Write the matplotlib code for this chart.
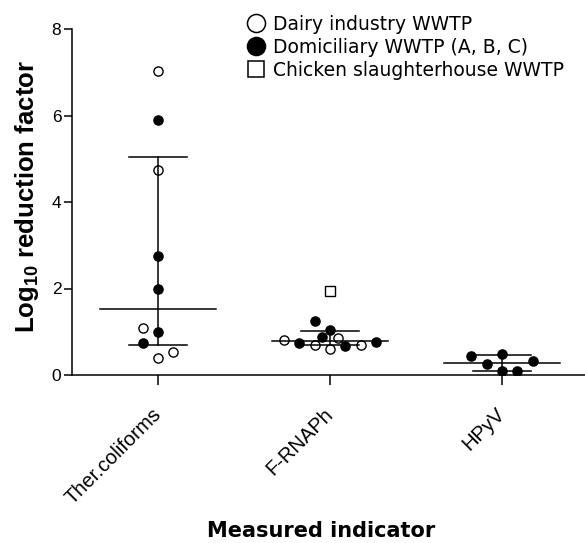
import numpy as np
import matplotlib
matplotlib.use('Agg')
import matplotlib.pyplot as plt
from matplotlib.lines import Line2D

############### data  ################################
categories = ['Ther.coliforms', 'F-RNAPh', 'HPyV']
series_names = ['Dairy industry WWTP', 'Domiciliary WWTP (A, B, C)', 'Chicken slaughterhouse WWTP']

# Log10 reduction factor
ther_dairy = [7.03, 4.74, 1.08, 0.54, 0.39]
ther_domic = [5.90, 2.74, 1.99, 0.99, 0.75]
frna_dairy = [0.85, 0.82, 0.69, 0.69, 0.60]
frna_domic = [1.26, 1.05, 0.89, 0.74, 0.66, 0.77]
frna_chick = [1.95]
hpyv_domic = [0.45, 0.48, 0.32, 0.25, 0.10, 0.10]

yticks = [0, 2, 4, 6, 8]

############### layout (scatter columns, in marker slots) ##########
ther_dairy_slot = [0, 0, -1, 1, 0]
ther_domic_slot = [0, 0, 0, 0, -1]
frna_dairy_slot = [0.5, -3, -1, 2, 0]
frna_domic_slot = [-1, 0, -0.5, -2, 1, 3]
frna_chick_slot = [0]
hpyv_domic_slot = [-2, 0, 2, -1, 0, 1]
step = 0.089

############### style ################################
plt.rcParams['mathtext.fontset'] = 'custom'
plt.rcParams['mathtext.rm'] = 'Liberation Sans:bold'
plt.rcParams['mathtext.default'] = 'rm'

open_kw = dict(marker='o', ms=6.6, mew=1.0, mfc='none', mec='black', ls='none', zorder=3)
fill_kw = dict(marker='o', ms=6.6, mew=1.0, mfc='black', mec='black', ls='none', zorder=4)
sq_kw = dict(marker='s', ms=7.0, mew=1.0, mfc='none', mec='black', ls='none', zorder=3)

fig = plt.figure(figsize=(5.85, 5.43), dpi=100)
ax = fig.add_axes([72 / 585, 168 / 543, 516 / 585, 346 / 543])

groups = [
    (0, [(ther_dairy, ther_dairy_slot, open_kw), (ther_domic, ther_domic_slot, fill_kw)]),
    (1, [(frna_dairy, frna_dairy_slot, open_kw), (frna_domic, frna_domic_slot, fill_kw),
         (frna_chick, frna_chick_slot, sq_kw)]),
    (2, [(hpyv_domic, hpyv_domic_slot, fill_kw)]),
]

for xc, parts in groups:
    allv = []
    for vals, slots, kw in parts:
        xs = xc + np.array(slots) * step
        ax.plot(xs, vals, **kw)
        allv += vals
    allv = np.array(allv)
    # median with interquartile range
    med = np.median(allv)
    q1, q3 = np.percentile(allv, [25, 75], method='weibull')
    ax.plot([xc - 0.335, xc + 0.335], [med, med], color='black', lw=1.1, zorder=2)
    ax.plot([xc - 0.17, xc + 0.17], [q1, q1], color='black', lw=1.1, zorder=2)
    ax.plot([xc - 0.17, xc + 0.17], [q3, q3], color='black', lw=1.1, zorder=2)
    ax.plot([xc, xc], [q1, q3], color='black', lw=1.1, zorder=2)

############### axes ################################
ax.set_xlim(-0.5, 2.5)
ax.set_ylim(0, 8)
for s in ['top', 'right']:
    ax.spines[s].set_visible(False)
for s in ['left', 'bottom']:
    ax.spines[s].set_linewidth(1.1)

ax.set_yticks(yticks)
ax.set_yticklabels([str(t) for t in yticks], fontsize=12.5, family='Liberation Sans')
ax.tick_params(axis='y', length=6, width=1.1, pad=1.7)

ax.set_xticks(range(len(categories)))
ax.set_xticklabels(categories, fontsize=14.5, family='Liberation Sans',
                   rotation=45, ha='right', va='center', rotation_mode='anchor')
ax.tick_params(axis='x', length=7.2, width=1.1, pad=19)

ax.set_ylabel('Log$_{10}$ reduction factor', fontsize=18.5, fontweight='bold', family='Liberation Sans')
ax.yaxis.set_label_coords(-0.060, 0.515)
ax.set_xlabel('Measured indicator', fontsize=15, fontweight='bold', family='DejaVu Sans')
ax.xaxis.set_label_coords(0.482, -0.422)

############### legend ################################
handles = [
    Line2D([], [], marker='o', ms=13, mew=1.1, mfc='none', mec='black', ls='none'),
    Line2D([], [], marker='o', ms=13, mew=1.1, mfc='black', mec='black', ls='none'),
    Line2D([], [], marker='s', ms=12, mew=1.1, mfc='none', mec='black', ls='none'),
]
fig.legend(handles, series_names, loc='upper left', bbox_to_anchor=(246.6 / 585, 1 - 15 / 543),
           frameon=False, prop={'family': 'DejaVu Sans', 'size': 13.5},
           handlelength=1.0, handletextpad=0.39, borderpad=0, borderaxespad=0,
           labelspacing=0.2)

fig.savefig('out.png', dpi=100, facecolor='white')
